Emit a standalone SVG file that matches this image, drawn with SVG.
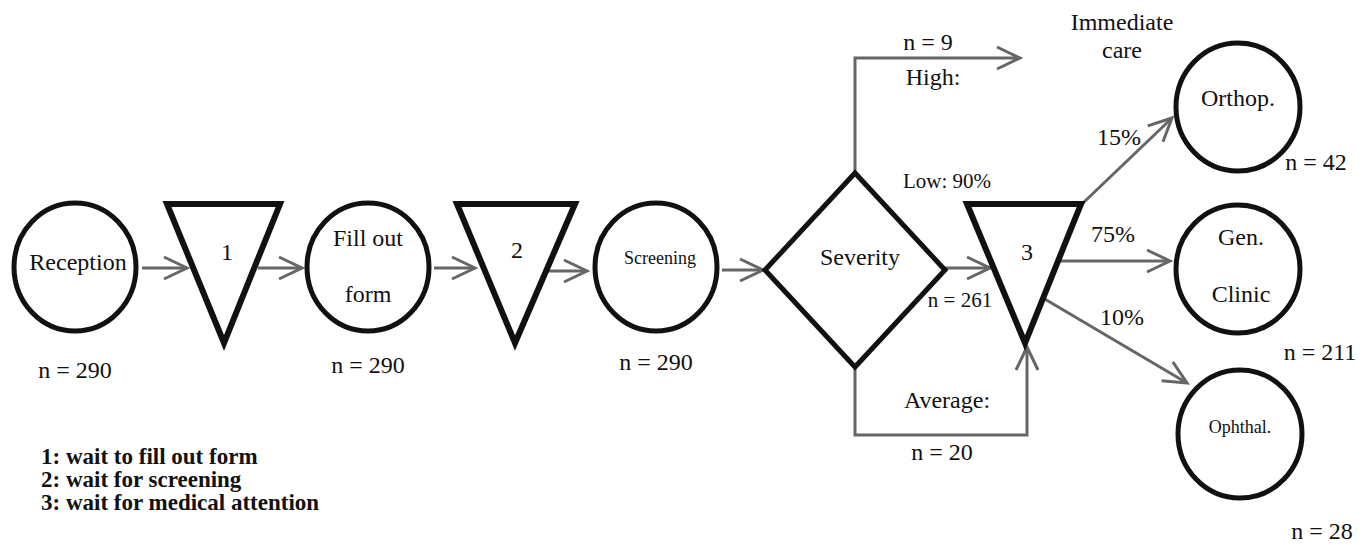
<svg xmlns="http://www.w3.org/2000/svg" width="1370" height="545" viewBox="0 0 1370 545">
<style>
  .node { fill: #fff; stroke: #111; stroke-width: 5; stroke-linejoin: miter; }
  .tri { fill: #fff; stroke: #111; stroke-width: 6; stroke-linejoin: miter; }
  .conn { fill: none; stroke: #666; stroke-width: 3; marker-end: url(#arr); }
  text { font-family: "Liberation Serif", "Times New Roman", serif; font-size: 24px; fill: #111; text-anchor: middle; }
  .sm { font-size: 18px; }
  .md { font-size: 21px; }
  .legend { font-weight: bold; text-anchor: start; font-size: 23px; }
</style>
<defs>
  <marker id="arr" markerUnits="userSpaceOnUse" viewBox="-26 -14 30 28" refX="0" refY="0" markerWidth="30" markerHeight="28" orient="auto" overflow="visible">
    <path d="M -23 -11 L 0 0 L -23 11" fill="none" stroke="#666" stroke-width="3"/>
  </marker>
</defs>
<rect width="1370" height="545" fill="#fff"/>

<g id="connectors">
  <line class="conn" x1="142" y1="268" x2="187" y2="268"/>
  <line class="conn" x1="258" y1="268" x2="302" y2="268"/>
  <line class="conn" x1="434" y1="268" x2="475" y2="268"/>
  <line class="conn" x1="543" y1="271" x2="587" y2="271"/>
  <line class="conn" x1="722" y1="270" x2="763" y2="270"/>
  <line class="conn" x1="945" y1="268" x2="990" y2="268"/>
  <polyline class="conn" points="855,173 855,58 1020,58"/>
  <polyline class="conn" points="855,367 855,435 1027,435 1027,347"/>
  <line class="conn" x1="1083" y1="203" x2="1172" y2="118"/>
  <line class="conn" x1="1060" y1="261" x2="1170" y2="261"/>
  <line class="conn" x1="1043" y1="298" x2="1187" y2="383"/>
</g>

<g id="reception">
  <ellipse class="node" cx="75" cy="267" rx="61" ry="64"/>
  <text x="78" y="270">Reception</text>
  <text x="75" y="378">n = 290</text>
</g>
<g id="wait1">
  <polygon class="tri" points="167,204 280,204 224,343"/>
  <text x="227" y="260">1</text>
</g>
<g id="fillform">
  <ellipse class="node" cx="368" cy="267" rx="61" ry="64"/>
  <text x="368" y="246">Fill out</text>
  <text x="368" y="302">form</text>
  <text x="368" y="373">n = 290</text>
</g>
<g id="wait2">
  <polygon class="tri" points="457,204 575,204 515,343"/>
  <text x="517" y="258">2</text>
</g>
<g id="screening">
  <ellipse class="node" cx="656" cy="267" rx="61" ry="64"/>
  <text class="sm" x="660" y="264">Screening</text>
  <text x="656" y="370">n = 290</text>
</g>
<g id="severity">
  <polygon class="node" points="765,270 855,173 945,270 855,367"/>
  <text x="860" y="265">Severity</text>
</g>
<g id="labels-severity">
  <text x="928" y="50">n = 9</text>
  <text x="933" y="85">High:</text>
  <text x="1122" y="30">Immediate</text>
  <text x="1122" y="58">care</text>
  <text class="md" x="947" y="188">Low: 90%</text>
  <text class="md" x="960" y="307">n = 261</text>
  <text x="947" y="408">Average:</text>
  <text x="942" y="460">n = 20</text>
</g>
<g id="wait3">
  <polygon class="tri" points="967,204 1081,204 1025,343"/>
  <text x="1027" y="260">3</text>
</g>
<g id="labels-pct">
  <text x="1119" y="145">15%</text>
  <text x="1113" y="242">75%</text>
  <text x="1122" y="325">10%</text>
</g>
<g id="orthop">
  <ellipse class="node" cx="1238" cy="107" rx="62" ry="64"/>
  <text x="1238" y="106">Orthop.</text>
  <text x="1316" y="170">n = 42</text>
</g>
<g id="genclinic">
  <ellipse class="node" cx="1238" cy="269" rx="62" ry="64"/>
  <text x="1241" y="245">Gen.</text>
  <text x="1241" y="302">Clinic</text>
  <text x="1320" y="360">n = 211</text>
</g>
<g id="ophthal">
  <ellipse class="node" cx="1240" cy="434" rx="62" ry="64"/>
  <text class="sm" x="1240" y="433">Ophthal.</text>
  <text x="1322" y="539">n = 28</text>
</g>
<g id="legend">
  <text class="legend" x="41" y="464">1: wait to fill out form</text>
  <text class="legend" x="41" y="487">2: wait for screening</text>
  <text class="legend" x="41" y="510">3: wait for medical attention</text>
</g>
</svg>
